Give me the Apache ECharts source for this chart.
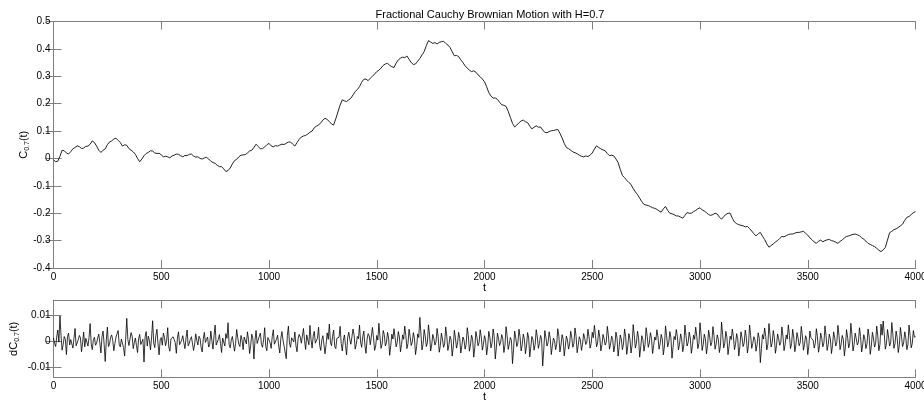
<!DOCTYPE html>
<html>
<head>
<meta charset="utf-8">
<title>Fractional Cauchy Brownian Motion</title>
<script src="https://cdn.jsdelivr.net/npm/echarts@6/dist/echarts.min.js"></script>
<style>
  html, body { margin: 0; padding: 0; background: #fff; }
  #chart { width: 924px; height: 403px; }
</style>
</head>
<body>
<div id="chart"></div>
<script>
// sampling step of the values
var stepTop = 20;   // cValues at t = 0, 20, 40 ... ; cMid at t = 10, 30, 50 ...
var stepBot = 10;   // dcValues at t = 0, 10, 20 ... ; dcMid at t = 5, 15, 25 ...

// C_0.7(t)
var cValues = [
  -0.005, -0.01, 0.03, 0.02, 0.025, 0.04, 0.043, 0.038, 0.045, 0.064,
  0.045, 0.022, 0.035, 0.06, 0.071, 0.066, 0.045, 0.048, 0.03, 0.015,
  -0.012, 0.01, 0.022, 0.027, 0.018, 0.013, 0.008, 0.002, 0.012, 0.015,
  0.006, 0.01, 0.016, 0.005, 0.0, 0.002, -0.002, -0.015, -0.025, -0.03,
  -0.048, -0.035, -0.008, 0.006, 0.013, 0.02, 0.03, 0.052, 0.035, 0.042,
  0.055, 0.042, 0.045, 0.052, 0.055, 0.06, 0.045, 0.07, 0.082, 0.089,
  0.1, 0.118, 0.13, 0.147, 0.135, 0.122, 0.17, 0.214, 0.208, 0.22,
  0.244, 0.262, 0.289, 0.284, 0.3, 0.317, 0.33, 0.345, 0.34, 0.332,
  0.36, 0.37, 0.374, 0.35, 0.345, 0.365, 0.39, 0.43, 0.42, 0.418,
  0.426, 0.42, 0.405, 0.375, 0.372, 0.35, 0.33, 0.317, 0.315, 0.298,
  0.28, 0.24, 0.22, 0.216, 0.196, 0.19, 0.15, 0.115, 0.13, 0.14,
  0.131, 0.108, 0.119, 0.115, 0.095, 0.098, 0.102, 0.106, 0.075, 0.04,
  0.03, 0.021, 0.012, 0.006, 0.007, 0.02, 0.046, 0.035, 0.028, 0.01,
  0.009, -0.015, -0.062, -0.08, -0.095, -0.122, -0.145, -0.168, -0.172, -0.18,
  -0.186, -0.196, -0.175, -0.2, -0.205, -0.21, -0.218, -0.198, -0.2, -0.19,
  -0.18, -0.192, -0.205, -0.205, -0.203, -0.222, -0.205, -0.2, -0.232, -0.242,
  -0.246, -0.248, -0.265, -0.283, -0.27, -0.296, -0.324, -0.312, -0.3, -0.285,
  -0.282, -0.276, -0.273, -0.27, -0.266, -0.28, -0.297, -0.31, -0.298, -0.3,
  -0.296, -0.302, -0.31, -0.298, -0.285, -0.28, -0.276, -0.282, -0.295, -0.31,
  -0.318, -0.328, -0.34, -0.325, -0.271, -0.26, -0.252, -0.24, -0.215, -0.205,
  -0.194
];
var cMid = [
  -0.012, 0.008, 0.028, 0.016, 0.035, 0.046, 0.036, 0.044, 0.052, 0.058,
  0.03, 0.03, 0.05, 0.064, 0.074, 0.058, 0.05, 0.036, 0.024, 0.0,
  -0.002, 0.018, 0.028, 0.02, 0.019, 0.006, 0.006, 0.009, 0.016, 0.01,
  0.011, 0.015, 0.009, 0.006, -0.002, 0.004, -0.01, -0.018, -0.03, -0.038,
  -0.044, -0.02, -0.003, 0.012, 0.014, 0.027, 0.04, 0.044, 0.036, 0.05,
  0.046, 0.047, 0.049, 0.051, 0.06, 0.052, 0.058, 0.078, 0.084, 0.096,
  0.112, 0.122, 0.14, 0.142, 0.126, 0.145, 0.195, 0.21, 0.214, 0.232,
  0.252, 0.278, 0.29, 0.293, 0.308, 0.322, 0.34, 0.347, 0.335, 0.348,
  0.366, 0.368, 0.362, 0.343, 0.355, 0.378, 0.412, 0.425, 0.423, 0.424,
  0.428, 0.414, 0.39, 0.376, 0.36, 0.338, 0.322, 0.32, 0.305, 0.29,
  0.262, 0.228, 0.221, 0.205, 0.194, 0.172, 0.128, 0.122, 0.137, 0.134,
  0.118, 0.114, 0.114, 0.104, 0.094, 0.101, 0.104, 0.092, 0.055, 0.036,
  0.024, 0.017, 0.008, 0.009, 0.012, 0.034, 0.04, 0.031, 0.018, 0.012,
  -0.002, -0.04, -0.07, -0.088, -0.11, -0.132, -0.158, -0.17, -0.176, -0.182,
  -0.192, -0.184, -0.19, -0.202, -0.21, -0.214, -0.208, -0.2, -0.194, -0.184,
  -0.188, -0.198, -0.208, -0.2, -0.214, -0.212, -0.2, -0.218, -0.238, -0.244,
  -0.25, -0.256, -0.275, -0.275, -0.284, -0.312, -0.318, -0.305, -0.292, -0.286,
  -0.278, -0.276, -0.27, -0.268, -0.273, -0.29, -0.305, -0.302, -0.304, -0.297,
  -0.3, -0.306, -0.303, -0.29, -0.283, -0.277, -0.279, -0.29, -0.302, -0.314,
  -0.322, -0.335, -0.334, -0.298, -0.266, -0.257, -0.246, -0.226, -0.212, -0.198
];

// dC_0.7(t)
var dcValues = [
  0.0012, -0.0021, 0.0043, 0.0097, -0.0035, 0.0018, -0.0052, 0.0031, 0.0006, -0.0027, 0.0049, -0.0014, 0.0022, -0.0041, 0.0035, 0.0011, -0.0019, 0.0068, -0.0033, 0.0015,
  -0.0008, 0.0027, -0.0046, 0.0039, -0.0079, 0.0054, -0.0012, 0.0024, -0.0037, 0.0016, 0.0041, -0.0022, 0.0009, -0.0058, 0.0088, -0.0017, 0.0033, -0.0029, 0.0012, -0.0044,
  0.0026, -0.0011, -0.0081, 0.0037, 0.0019, -0.0034, 0.0079, -0.0025, 0.0046, -0.0053, 0.0014, 0.0031, -0.0018, 0.0052, -0.0039, 0.0008, 0.0024, -0.0047, 0.0036, -0.0013,
  0.0021, -0.0029, 0.0043, -0.0008, 0.0017, -0.0036, 0.0028, -0.0015, 0.0011, -0.0042, 0.0034, 0.0006, -0.0023, 0.0039, -0.0031, 0.0062, -0.0018, 0.0025, -0.0044, 0.0013,
  0.0029, 0.0071, -0.0026, 0.0018, -0.0039, 0.0045, -0.0012, 0.0022, -0.0033, 0.0009, 0.0036, -0.0048, 0.0027, -0.0069, 0.0041, -0.0016, 0.0031, -0.0024, 0.0052, -0.0037,
  0.0015, -0.0028, 0.0044, -0.0011, 0.0023, -0.0046, 0.0037, -0.0019, -0.0068, 0.0058, -0.0024, 0.0012, 0.0035, -0.0041, 0.0026, -0.0008, 0.0049, -0.0032, 0.0017, 0.0061,
  -0.0027, 0.0038, -0.0015, 0.0054, -0.0036, 0.0021, -0.0049, 0.0032, 0.0066, -0.0018, 0.0043, -0.0029, 0.0011, 0.0057, -0.0038, 0.0024, -0.0053, 0.0035, -0.0012, 0.0047,
  -0.0031, 0.0018, 0.0062, -0.0024, 0.0039, -0.0047, 0.0029, -0.0014, 0.0053, -0.0036, 0.0022, 0.0069, -0.0028, 0.0041, -0.0019, 0.0034, -0.0055, 0.0027, 0.0048, -0.0022,
  0.0037, -0.0041, 0.0024, 0.0058, -0.0029, 0.0046, -0.0017, 0.0033, -0.0052, 0.0028, 0.0092, -0.0034, 0.0045, -0.0021, 0.0063, -0.0038, 0.0026, -0.0015, 0.0049, -0.0043,
  0.0031, -0.0024, 0.0055, -0.0036, 0.0019, -0.0058, 0.0042, -0.0027, 0.0034, -0.0046, 0.0016, -0.0031, 0.0052, -0.0039, 0.0023, -0.0062, 0.0037, -0.0018, 0.0044, -0.0035,
  0.0021, -0.0053, 0.0038, -0.0026, 0.0047, -0.0069, 0.0031, -0.0017, 0.0025, -0.0044, 0.0056, -0.0032, 0.0014, -0.0087, 0.0039, -0.0021, 0.0046, -0.0038, 0.0027, -0.0049,
  0.0033, -0.0061, 0.0018, -0.0035, 0.0044, -0.0028, 0.0022, -0.0096, 0.0041, -0.0019, 0.0036, -0.0052, 0.0012, -0.0033, 0.0048, -0.0042, 0.0025, -0.0057, 0.0019, -0.0031,
  0.0038, -0.0024, 0.0051, -0.0045, 0.0017, -0.0036, 0.0029, -0.0013, 0.0046, -0.0027, 0.0034, 0.0061, -0.0022, 0.0043, -0.0038, 0.0026, -0.0015, 0.0057, -0.0031, 0.0019,
  -0.0042, 0.0035, -0.0058, 0.0024, -0.0033, 0.0047, -0.0051, 0.0029, -0.0046, 0.0064, -0.0027, 0.0038, -0.0062, 0.0021, -0.0039, 0.0052, -0.0024, 0.0033, -0.0048, 0.0016,
  0.0044, -0.0031, 0.0026, -0.0053, 0.0059, -0.0022, 0.0037, -0.0066, 0.0018, 0.0045, -0.0034, 0.0028, -0.0041, 0.0062, -0.0019, 0.0035, -0.0047, 0.0023, 0.0054, -0.0029,
  0.0071, -0.0036, 0.0027, -0.0049, 0.0042, -0.0018, 0.0056, -0.0031, 0.0024, -0.0044, 0.0074, -0.0026, 0.0038, -0.0052, 0.0019, 0.0047, -0.0033, 0.0029, -0.0058, 0.0036,
  -0.0021, 0.0043, -0.0046, 0.0062, -0.0028, 0.0017, -0.0039, 0.0032, -0.0083, 0.0025, 0.0051, -0.0034, 0.0068, -0.0023, 0.0041, -0.0047, 0.0028, -0.0016, 0.0055, -0.0037,
  0.0024, 0.0063, -0.0029, 0.0046, -0.0041, 0.0033, -0.0018, 0.0057, -0.0035, 0.0021, -0.0052, 0.0039, 0.0014, -0.0027, 0.0048, -0.0043, 0.0031, -0.0022, 0.0059, -0.0036,
  0.0027, -0.0048, 0.0036, -0.0019, 0.0061, -0.0033, 0.0022, -0.0057, 0.0044, -0.0026, 0.0069, -0.0038, 0.0031, -0.0015, 0.0052, -0.0042, 0.0025, -0.0029, 0.0047, -0.0051,
  0.0034, -0.0023, 0.0058, -0.0037, 0.0066, 0.0078, -0.0031, 0.0045, -0.0019, 0.0072, -0.0028, 0.0039, -0.0044, 0.0053, -0.0021, 0.0036, -0.0033, 0.0062, -0.0026, 0.0041,
  0.0018
];
var dcMid = [
  -0.0009, 0.0016, -0.0004, 0.0021, -0.0012, 0.0007, 0.0019, -0.0015, 0.0003, 0.0011, -0.0018, 0.0006, 0.0013, -0.0007, -0.0022, 0.0009, 0.0014, -0.0011, 0.0005, -0.0016,
  0.0012, -0.0006, 0.0018, -0.0013, 0.0004, -0.0021, 0.0015, 0.0002, -0.0009, 0.0017, -0.0014, 0.0008, -0.0025, 0.0011, 0.0006, -0.0012, 0.0019, -0.0005, -0.0017, 0.0009,
  -0.0013, 0.0007, 0.0016, -0.0019, 0.0003, 0.0012, -0.0008, 0.0021, -0.0011, 0.0005, -0.0016, 0.0014, 0.0002, -0.0023, 0.0009, 0.0017, -0.0006, 0.0011, -0.0014, 0.0004,
  -0.0007, 0.0013, -0.0018, 0.0006, 0.0015, -0.0011, 0.0003, 0.0019, -0.0024, 0.0008, -0.0005, 0.0016, -0.0012, 0.0002, 0.0021, -0.0015, 0.0007, -0.0009, 0.0012, -0.0019,
  0.0011, -0.0014, 0.0005, 0.0018, -0.0008, 0.0013, -0.0021, 0.0004, 0.0016, -0.0011, 0.0007, -0.0017, 0.0012, 0.0003, -0.0009, 0.0019, -0.0013, 0.0006, -0.0022, 0.0014,
  -0.0005, 0.0017, -0.0012, 0.0008, -0.0019, 0.0011, 0.0004, -0.0015, 0.0021, -0.0007, 0.0013, -0.0003, -0.0018, 0.0009, 0.0016, -0.0011, 0.0002, 0.0024, -0.0014, 0.0006,
  0.0019, -0.0008, 0.0012, -0.0016, 0.0005, 0.0022, -0.0013, 0.0007, -0.0004, 0.0018, -0.0021, 0.0011, 0.0015, -0.0009, 0.0003, -0.0017, 0.0013, 0.0006, -0.0011, 0.0023,
  -0.0012, 0.0009, -0.0003, 0.0017, -0.0015, 0.0006, 0.0021, -0.0008, 0.0013, -0.0019, 0.0004, 0.0016, -0.0011, 0.0025, -0.0006, 0.0012, -0.0018, 0.0008, 0.0014, -0.0005,
  0.0016, -0.0013, 0.0007, 0.0022, -0.0009, 0.0018, -0.0004, 0.0011, -0.0021, 0.0014, 0.0028, -0.0012, 0.0019, -0.0006, 0.0024, -0.0015, 0.0009, -0.0003, 0.0017, -0.0018,
  0.0008, -0.0011, 0.0019, -0.0014, 0.0005, -0.0023, 0.0013, -0.0007, 0.0011, -0.0017, 0.0004, -0.0012, 0.0021, -0.0015, 0.0007, -0.0024, 0.0014, -0.0005, 0.0016, -0.0013,
  0.0006, -0.0019, 0.0014, -0.0008, 0.0018, -0.0026, 0.0011, -0.0004, 0.0009, -0.0016, 0.0021, -0.0012, 0.0003, -0.0031, 0.0013, -0.0007, 0.0017, -0.0014, 0.0008, -0.0019,
  0.0012, -0.0022, 0.0005, -0.0013, 0.0016, -0.0009, 0.0007, -0.0034, 0.0014, -0.0006, 0.0011, -0.0018, 0.0002, -0.0012, 0.0019, -0.0015, 0.0008, -0.0021, 0.0004, -0.0011,
  0.0014, -0.0008, 0.0019, -0.0016, 0.0005, -0.0012, 0.0011, -0.0003, 0.0017, -0.0009, 0.0013, 0.0022, -0.0007, 0.0015, -0.0014, 0.0009, -0.0004, 0.0021, -0.0011, 0.0006,
  -0.0016, 0.0012, -0.0021, 0.0008, -0.0011, 0.0017, -0.0019, 0.0009, -0.0015, 0.0023, -0.0008, 0.0013, -0.0022, 0.0006, -0.0013, 0.0019, -0.0007, 0.0011, -0.0017, 0.0004,
  0.0016, -0.0011, 0.0008, -0.0019, 0.0021, -0.0006, 0.0013, -0.0024, 0.0005, 0.0017, -0.0012, 0.0009, -0.0015, 0.0022, -0.0005, 0.0012, -0.0017, 0.0007, 0.0019, -0.0009,
  0.0025, -0.0013, 0.0009, -0.0018, 0.0015, -0.0005, 0.0021, -0.0011, 0.0007, -0.0016, 0.0026, -0.0008, 0.0013, -0.0019, 0.0006, 0.0017, -0.0012, 0.0010, -0.0021, 0.0013,
  -0.0007, 0.0015, -0.0017, 0.0022, -0.0009, 0.0005, -0.0014, 0.0011, -0.0029, 0.0008, 0.0018, -0.0012, 0.0024, -0.0006, 0.0014, -0.0017, 0.0009, -0.0004, 0.0019, -0.0013,
  0.0008, 0.0022, -0.0010, 0.0016, -0.0015, 0.0012, -0.0006, 0.0020, -0.0012, 0.0007, -0.0019, 0.0013, 0.0004, -0.0009, 0.0017, -0.0016, 0.0011, -0.0007, 0.0021, -0.0013,
  0.0009, -0.0017, 0.0013, -0.0006, 0.0022, -0.0011, 0.0007, -0.0020, 0.0015, -0.0008, 0.0024, -0.0013, 0.0010, -0.0005, 0.0018, -0.0015, 0.0008, -0.0010, 0.0016, -0.0019,
  0.0012, -0.0008, 0.0020, -0.0013, 0.0023, 0.0027, -0.0011, 0.0016, -0.0006, 0.0025, -0.0010, 0.0014, -0.0016, 0.0019, -0.0007, 0.0013, -0.0012, 0.0022, -0.0009, 0.0015
];

var dcTicks = [-0.01, 0, 0.01];

// interleave the two readings of each panel into [t, value] points
function merge(main, mid, step) {
  var out = [];
  for (var i = 0; i < main.length; i++) {
    out.push([i * step, main[i]]);
    if (i < mid.length) out.push([i * step + step / 2, mid[i]]);
  }
  return out;
}
var topData = merge(cValues, cMid, stepTop);
var botData = merge(dcValues, dcMid, stepBot);

var axisGray = '#7f7f7f';
var font = 'Arial, "Liberation Sans", sans-serif';
var lbl = { color: '#000', fontSize: 10, fontFamily: font };
var nameRich = {
  a: { fontSize: 11, fontFamily: font, color: '#000', lineHeight: 14 },
  s: { fontSize: 7, fontFamily: font, color: '#000', lineHeight: 14, verticalAlign: 'bottom', padding: [4, 0, 0, 0] }
};

function fmt(v) { return String(+v.toFixed(3)); }

function xAx(grid, bottom) {
  return {
    type: 'value', gridIndex: grid, min: 0, max: 4000, interval: 500,
    position: bottom ? 'bottom' : 'top',
    name: bottom ? 't' : '', nameLocation: 'middle', nameGap: 14, nameMoveOverlap: false,
    nameTextStyle: { fontSize: 11, fontFamily: font, color: '#000' },
    axisLine: { show: true, onZero: false, lineStyle: { color: axisGray } },
    axisTick: { show: true, inside: true, length: 8, lineStyle: { color: axisGray } },
    axisLabel: bottom ? Object.assign({ margin: 4, formatter: fmt }, lbl) : { show: false },
    splitLine: { show: false }
  };
}

function yAx(grid, left, range, extra) {
  var ax = {
    type: 'value', gridIndex: grid, min: range[0], max: range[1],
    position: left ? 'left' : 'right',
    axisLine: { show: true, lineStyle: { color: axisGray } },
    axisTick: { show: true, inside: true, length: 8, lineStyle: { color: axisGray } },
    axisLabel: left ? Object.assign({ margin: 3, formatter: fmt }, lbl) : { show: false },
    splitLine: { show: false }
  };
  return Object.assign(ax, extra || {});
}

var option = {
  animation: false,
  backgroundColor: '#fff',
  title: {
    text: 'Fractional Cauchy Brownian Motion with H=0.7',
    left: 485, top: 4, textAlign: 'center',
    textStyle: { fontSize: 11, fontWeight: 'normal', fontFamily: font, color: '#000' }
  },
  grid: [
    { left: 53.5, top: 21.5, right: 8.5, height: 246.5, outerBoundsMode: 'none' },
    { left: 53.5, top: 300.3, right: 8.5, height: 77, outerBoundsMode: 'none' }
  ],
  xAxis: [xAx(0, true), xAx(0, false), xAx(1, true), xAx(1, false)],
  yAxis: [
    yAx(0, true, [-0.4, 0.5], {
      interval: 0.1,
      name: '{a|C}{s|0.7}{a|(t)}', nameLocation: 'middle', nameGap: 23, nameRotate: 90,
      nameMoveOverlap: false,
      nameTextStyle: { rich: nameRich }
    }),
    yAx(0, false, [-0.4, 0.5], { interval: 0.1 }),
    yAx(1, true, [-0.014, 0.0158], {
      name: '{a|dC}{s|0.7}{a|(t)}', nameLocation: 'middle', nameGap: 33, nameRotate: 90,
      nameMoveOverlap: false,
      nameTextStyle: { rich: nameRich },
      axisTick: { show: true, inside: true, length: 8, customValues: dcTicks, lineStyle: { color: axisGray } },
      axisLabel: Object.assign({ margin: 3, customValues: dcTicks, formatter: fmt }, lbl)
    }),
    yAx(1, false, [-0.014, 0.0158], {
      axisTick: { show: true, inside: true, length: 8, customValues: dcTicks, lineStyle: { color: axisGray } },
      axisLabel: { show: false, customValues: dcTicks }
    })
  ],
  series: [
    {
      type: 'line', xAxisIndex: 0, yAxisIndex: 0, data: topData,
      showSymbol: false, lineStyle: { color: '#222', width: 1 }
    },
    {
      type: 'line', xAxisIndex: 2, yAxisIndex: 2, data: botData,
      showSymbol: false, lineStyle: { color: '#000', width: 0.8 }
    }
  ]
};

var myChart = echarts.init(document.getElementById('chart'));
myChart.setOption(option);
</script>
</body>
</html>
